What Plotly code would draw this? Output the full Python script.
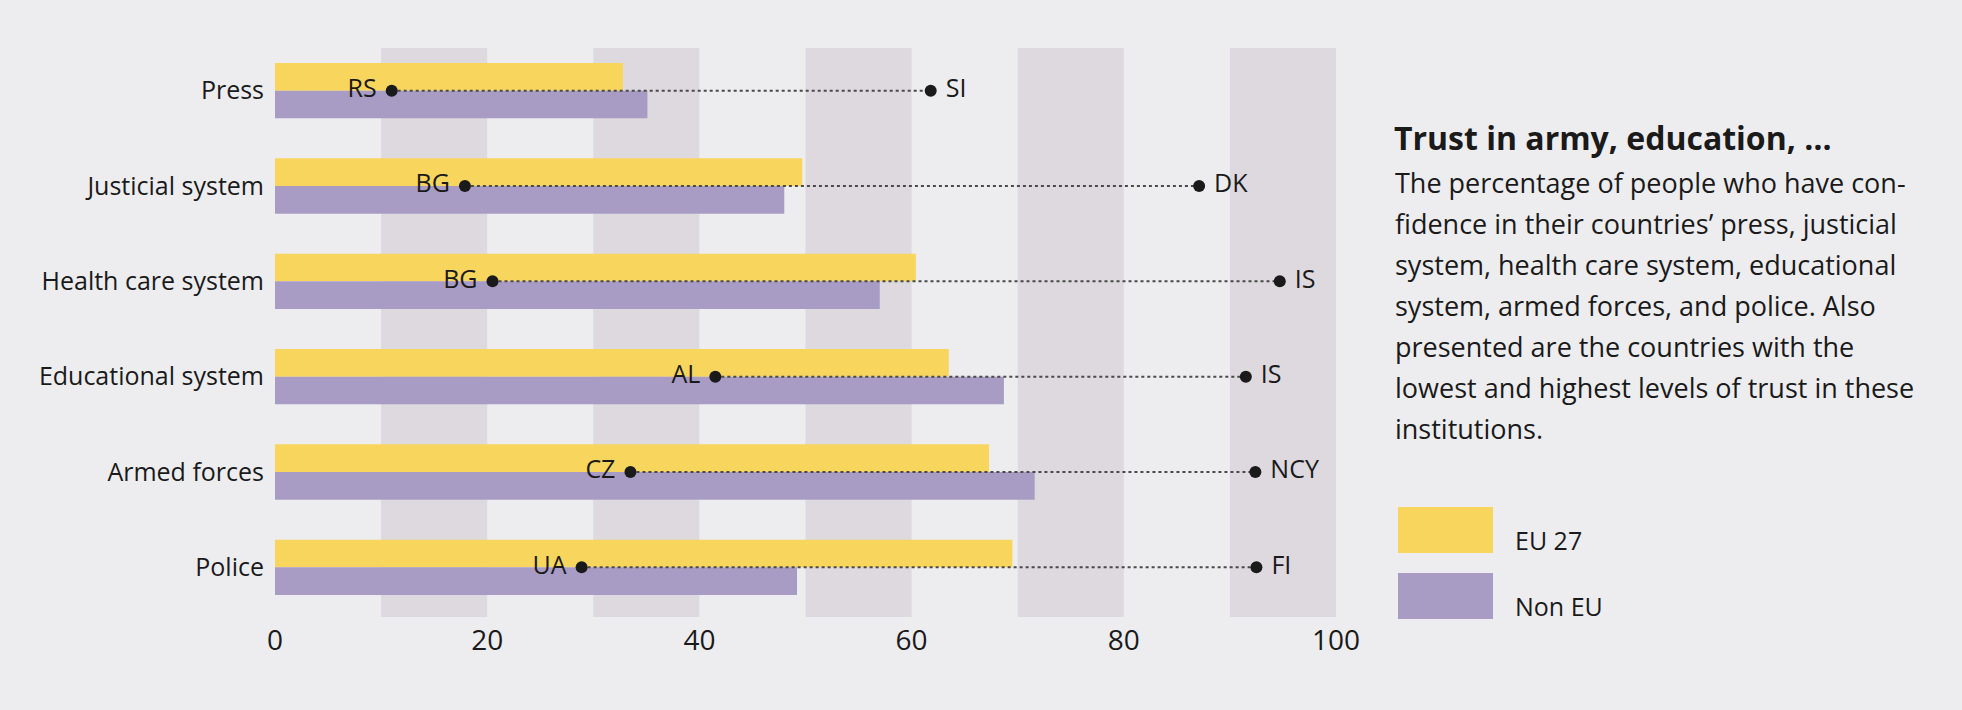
import plotly.graph_objects as go

# Share of people who trust each institution (%)
institutions = ["Press", "Justicial system", "Health care system",
                "Educational system", "Armed forces", "Police"]
eu27 = [32.8, 49.7, 60.4, 63.5, 67.3, 69.5]
non_eu = [35.1, 48.0, 57.0, 68.7, 71.6, 49.2]

# Lowest / highest country for each institution
low_country = ["RS", "BG", "BG", "AL", "CZ", "UA"]
low_value = [11.0, 17.9, 20.5, 41.5, 33.5, 28.9]
high_country = ["SI", "DK", "IS", "IS", "NCY", "FI"]
high_value = [61.8, 87.1, 94.7, 91.5, 92.4, 92.5]

band_starts = [10, 30, 50, 70, 90]
x_ticks = [0, 20, 40, 60, 80, 100]

YELLOW = "#F8D55C"
PURPLE = "#A89CC4"
BG = "#EDEDF0"
BAND = "#DDD9DE"
INK = "#1a1a1a"
FONT = "Open Sans"

W, H = 1962, 710
L, R, T, B = 275, 626, 43, 95


def px_x(px):
    return (px - L) / (W - L - R)


def px_y(py):
    return 1 - (py - T) / (H - T - B)


fig = go.Figure()

fig.add_trace(go.Bar(y=institutions, x=eu27, orientation="h", name="EU 27",
                     marker=dict(color=YELLOW, line_width=0)))
fig.add_trace(go.Bar(y=institutions, x=non_eu, orientation="h", name="Non EU",
                     marker=dict(color=PURPLE, line_width=0)))

# dotted connector from lowest to highest country
line_x, line_y = [], []
for cat, lo, hi in zip(institutions, low_value, high_value):
    line_x += [lo, hi, None]
    line_y += [cat, cat, None]
fig.add_trace(go.Scatter(x=line_x, y=line_y, mode="lines",
                         line=dict(color="#4a4a4a", width=2, dash="dot"),
                         hoverinfo="skip"))

# little gap between dot and country code
fig.add_trace(go.Scatter(x=low_value, y=institutions, mode="markers+text",
                         text=[c + "\u00a0" for c in low_country],
                         textposition="middle left",
                         textfont=dict(family=FONT, size=25, color=INK),
                         marker=dict(color=INK, size=12)))
fig.add_trace(go.Scatter(x=high_value, y=institutions, mode="markers+text",
                         text=["\u00a0" + c for c in high_country],
                         textposition="middle right",
                         textfont=dict(family=FONT, size=25, color=INK),
                         marker=dict(color=INK, size=12)))

# background bands
for b in band_starts:
    fig.add_shape(type="rect", xref="x", yref="paper", x0=b, x1=b + 10,
                  y0=px_y(617), y1=px_y(48), fillcolor=BAND, line_width=0,
                  layer="below")

# text block on the right
fig.add_annotation(text="<b>Trust in army, education, …</b>", xref="paper", yref="paper",
                   x=px_x(1392), y=px_y(138), xanchor="left", yanchor="middle",
                   showarrow=False, font=dict(family=FONT, size=32, color=INK))
body = ["The percentage of people who have con-",
        "fidence in their countries’ press, justicial",
        "system, health care system, educational",
        "system, armed forces, and police. Also",
        "presented are the countries with the",
        "lowest and highest levels of trust in these",
        "institutions."]
for i, line in enumerate(body):
    fig.add_annotation(text=line, xref="paper", yref="paper",
                       x=px_x(1393), y=px_y(182 + 41 * i), xanchor="left", yanchor="middle",
                       showarrow=False, font=dict(family=FONT, size=27, color=INK))

# legend
for name, color, top in [("EU 27", YELLOW, 507), ("Non EU", PURPLE, 573)]:
    fig.add_shape(type="rect", xref="paper", yref="paper",
                  x0=px_x(1398), x1=px_x(1493), y0=px_y(top + 46), y1=px_y(top),
                  fillcolor=color, line_width=0)
    fig.add_annotation(text=name, xref="paper", yref="paper",
                       x=px_x(1513), y=px_y(top + 33), xanchor="left", yanchor="middle",
                       showarrow=False, font=dict(family=FONT, size=25, color=INK))

fig.update_layout(
    width=W, height=H,
    margin=dict(l=L, r=R, t=T, b=B),
    paper_bgcolor=BG, plot_bgcolor=BG,
    barmode="group", bargap=0.42, bargroupgap=0,
    showlegend=False,
    font=dict(family=FONT, color=INK),
)
fig.update_xaxes(range=[0, 100], tickvals=x_ticks, showgrid=False, zeroline=False,
                 showline=False, ticks="", tickfont=dict(size=28, color=INK),
                 ticklabelstandoff=6)
fig.update_yaxes(categoryorder="array", categoryarray=institutions,
                 autorange="reversed", showgrid=False, zeroline=False,
                 ticks="", tickfont=dict(size=25, color=INK), ticklabelstandoff=10)

# drop the default page margin so the figure fills the window
fig.write_html("out.html", config={"displayModeBar": False},
               post_script="document.body.style.margin='0';")
